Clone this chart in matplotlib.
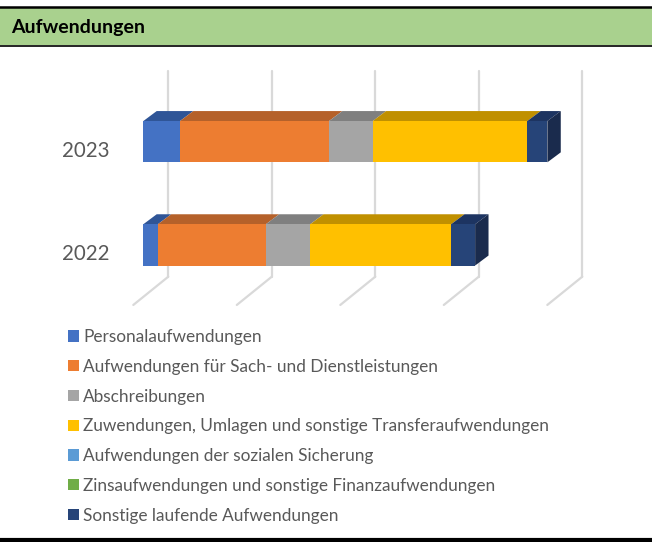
import matplotlib.pyplot as plt
from matplotlib.patches import Polygon, Rectangle, Patch
import numpy as np

plt.rcParams['font.family'] = ['Lato', 'DejaVu Sans']

years = ['2022', '2023']
series = ['Personalaufwendungen',
          'Aufwendungen für Sach- und Dienstleistungen',
          'Abschreibungen',
          'Zuwendungen, Umlagen und sonstige Transferaufwendungen',
          'Aufwendungen der sozialen Sicherung',
          'Zinsaufwendungen und sonstige Finanzaufwendungen',
          'Sonstige laufende Aufwendungen']
# values per series, order: 2022, 2023
personal = [7.0, 17.7]
sach = [52.2, 72.0]
abschreibung = [21.4, 21.1]
zuwendungen = [68.1, 74.7]
sozial = [0.0, 0.0]
zinsen = [0.0, 0.0]
sonstige = [11.6, 9.7]
values = [personal, sach, abschreibung, zuwendungen, sozial, zinsen, sonstige]

front = ['#4472C4', '#ED7D31', '#A5A5A5', '#FFC000', '#5B9BD5', '#70AD47', '#264478']
top = ['#2F5597', '#B5612A', '#7F7F7F', '#C09000', '#41719C', '#507E32', '#1D3461']
side_navy = '#1A2B4D'

grid_ticks = [0, 50, 100, 150, 200]

W, H = 652, 542
fig = plt.figure(figsize=(W / 100, H / 100), dpi=100)

# axes covering the whole figure, value units on x, category units on y
px_per_unit_x = 103.5 / 50
px_per_cat = 103.2
x0_px, y0_px = 143.3, 244.9
ax = fig.add_axes([0, 0, 1, 1])
ax.set_xlim(-x0_px / px_per_unit_x, (W - x0_px) / px_per_unit_x)
ax.set_ylim(-(H - y0_px) / px_per_cat, y0_px / px_per_cat)
ax.axis('off')

# depth offsets
bar_dx, bar_dy = 13.4 / px_per_unit_x, 10 / px_per_cat
wall_dx = 25 / px_per_unit_x
front_dx = -10 / px_per_unit_x
floor_back, floor_front = -0.308, -0.582
wall_top = 1.685

grid_col = '#D9D9D9'
for g in grid_ticks:
    ax.plot([g + wall_dx, g + wall_dx], [floor_back, wall_top], color=grid_col, lw=1.6, zorder=1,
            solid_capstyle='round')
    ax.plot([g + wall_dx, g + front_dx], [floor_back, floor_front], color=grid_col, lw=1.6, zorder=1,
            solid_capstyle='round')

ypos = np.arange(len(years))
bh = 0.40
left = np.zeros(len(years))
for i, vals in enumerate(values):
    vals = np.array(vals)
    ax.barh(ypos, vals, height=bh, left=left, color=front[i], zorder=3, linewidth=0)
    for j, v in enumerate(vals):
        if v <= 0:
            continue
        l, r = left[j], left[j] + v
        t = ypos[j] + bh / 2
        ax.add_patch(Polygon([(l, t), (r, t), (r + bar_dx, t + bar_dy), (l + bar_dx, t + bar_dy)],
                             closed=True, facecolor=top[i], edgecolor='none', zorder=2.5))
    left = left + vals

# right side faces of the stacks
for j in range(len(years)):
    r = left[j]
    t = ypos[j] + bh / 2
    b = ypos[j] - bh / 2
    ax.add_patch(Polygon([(r, b), (r, t), (r + bar_dx, t + bar_dy), (r + bar_dx, b + bar_dy)],
                         closed=True, facecolor=side_navy, edgecolor='none', zorder=2.5))

for j, yr in enumerate(years):
    ax.text(-16.1, ypos[j] - 0.09, yr, ha='right', va='center', fontsize=14.8, color='#595959')

# header band and frame lines
fig.patches.append(Rectangle((0, 1 - 45 / H), 1, 38 / H, transform=fig.transFigure,
                             facecolor='#A9D18E', edgecolor='none'))
fig.lines.append(plt.Line2D([0, 1], [1 - 6.5 / H] * 2, transform=fig.transFigure, color='black', lw=1.8))
fig.lines.append(plt.Line2D([0, 1], [1 - 45.5 / H] * 2, transform=fig.transFigure, color='black', lw=1.2))
fig.lines.append(plt.Line2D([0, 1], [1 - 539.5 / H] * 2, transform=fig.transFigure, color='black', lw=3))
fig.text(11 / W, 1 - 27 / H, 'Aufwendungen', ha='left', va='center', fontsize=14,
         fontweight='bold', color='black')

handles = [Patch(facecolor=c, edgecolor='none') for c in front]
fig.legend(handles, series, loc='upper left', bbox_to_anchor=(68 / W, 1 - 329 / H),
           frameon=False, fontsize=12.4, handlelength=0.63, handleheight=0.63,
           handletextpad=0.25, labelspacing=0.8, borderpad=0, borderaxespad=0,
           labelcolor='#595959')

fig.savefig('out.png', dpi=100)
